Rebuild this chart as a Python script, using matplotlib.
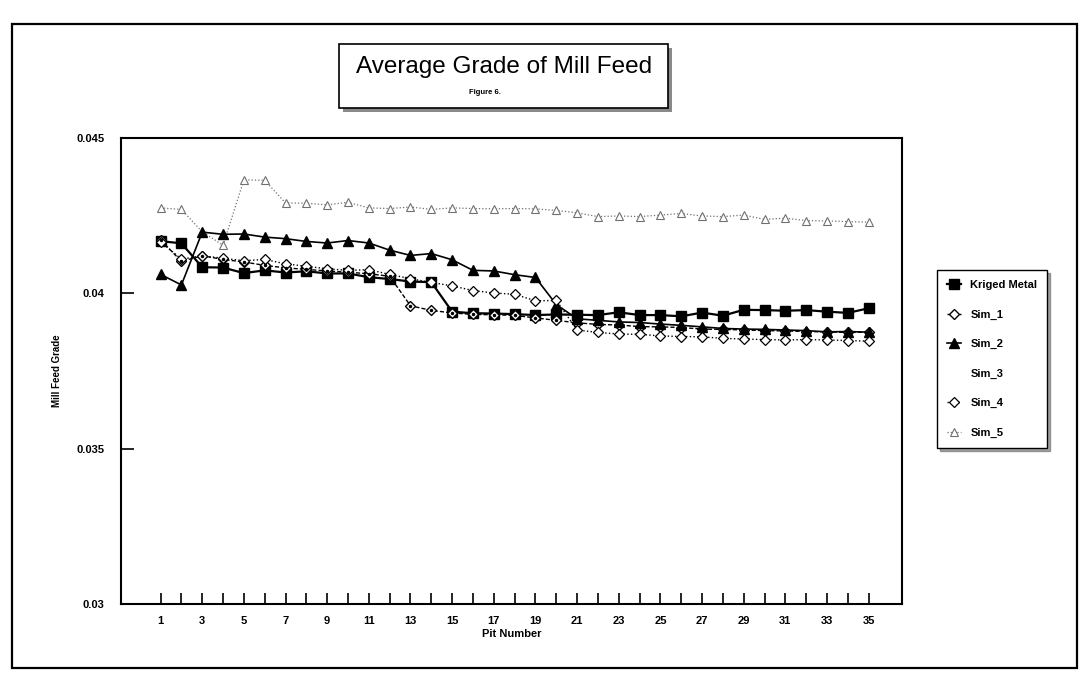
import matplotlib
matplotlib.use('Agg')
import matplotlib.pyplot as plt
from matplotlib.patches import Rectangle

plt.rcParams['font.family'] = ['Liberation Sans', 'DejaVu Sans']

# pit numbers 1..35
pits = list(range(1, 36))

kriged = [0.04168, 0.04161, 0.04084, 0.04083, 0.04065, 0.04074, 0.04067, 0.04071, 0.04064, 0.04064,
          0.04052, 0.04046, 0.04038, 0.04036, 0.03941, 0.03936, 0.03935, 0.03933, 0.03930, 0.03932,
          0.03931, 0.03930, 0.03939, 0.03930, 0.03930, 0.03926, 0.03938, 0.03928, 0.03947, 0.03946,
          0.03944, 0.03946, 0.03941, 0.03937, 0.03952]
sim_1 = [0.04172, 0.04103, 0.04121, 0.04109, 0.04101, 0.04090, 0.04082, 0.04077, 0.04072, 0.04068,
         0.04063, 0.04055, 0.03960, 0.03945, 0.03937, 0.03932, 0.03931, 0.03929, 0.03921, 0.03913,
         0.03905, 0.03900, 0.03898, 0.03893, 0.03892, 0.03890, 0.03885, 0.03884, 0.03882, 0.03880,
         0.03879, 0.03877, 0.03876, 0.03874, 0.03875]
sim_2 = [0.04061, 0.04027, 0.04197, 0.04190, 0.04191, 0.04181, 0.04176, 0.04167, 0.04162, 0.04170,
         0.04162, 0.04139, 0.04122, 0.04128, 0.04108, 0.04074, 0.04072, 0.04060, 0.04051, 0.03964,
         0.03918, 0.03913, 0.03908, 0.03906, 0.03901, 0.03897, 0.03892, 0.03887, 0.03885, 0.03884,
         0.03882, 0.03880, 0.03876, 0.03877, 0.03875]
sim_4 = [0.04166, 0.04110, 0.04121, 0.04113, 0.04105, 0.04109, 0.04095, 0.04087, 0.04079, 0.04074,
         0.04076, 0.04061, 0.04047, 0.04035, 0.04024, 0.04009, 0.04001, 0.03997, 0.03976, 0.03977,
         0.03882, 0.03874, 0.03869, 0.03868, 0.03863, 0.03861, 0.03860, 0.03855, 0.03853, 0.03851,
         0.03850, 0.03851, 0.03850, 0.03848, 0.03846]
sim_5 = [0.04275, 0.04270, 0.04198, 0.04155, 0.04365, 0.04364, 0.04291, 0.04290, 0.04285, 0.04293,
         0.04275, 0.04273, 0.04278, 0.04270, 0.04275, 0.04273, 0.04272, 0.04273, 0.04272, 0.04267,
         0.04259, 0.04247, 0.04249, 0.04247, 0.04252, 0.04257, 0.04249, 0.04247, 0.04252, 0.04238,
         0.04242, 0.04234, 0.04233, 0.04231, 0.04229]

y_ticks = [0.03, 0.035, 0.04, 0.045]
y_labels = ['0.03', '0.035', '0.04', '0.045']

fig = plt.figure(figsize=(10.8, 6.76), dpi=100)
W, H = 1080, 676

def fx(px):
    return px / W

def fy(py):
    return 1 - py / H

# outer page frame
fig.patches.append(Rectangle((fx(12), fy(668)), fx(1077) - fx(12), fy(24) - fy(668),
                             transform=fig.transFigure, fill=False, lw=1.6, ec='black'))

ax = fig.add_axes([fx(121), fy(604), fx(902) - fx(121), fy(138) - fy(604)])

ax.plot(pits, kriged, color='black', lw=1.6, marker='s', ms=6.5, label='Kriged Metal', zorder=3)
ax.plot(pits, sim_1, color='black', lw=1.0, ls=(0, (3, 1.5)), marker='D', ms=5,
        mfc='white', mec='black', mew=1.0, label='Sim_1', zorder=4)
ax.plot(pits, sim_1, ls='none', marker='.', ms=3, color='black', zorder=5)
ax.plot(pits, sim_2, color='black', lw=1.2, marker='^', ms=6.5, label='Sim_2', zorder=4)
ax.plot([], [], ls='none', label='Sim_3')
ax.plot(pits, sim_4, color='black', lw=1.0, ls=':', marker='D', ms=5,
        mfc='white', mec='black', mew=0.9, label='Sim_4', zorder=4)
ax.plot(pits, sim_5, color='#707070', lw=0.9, ls=':', marker='^', ms=6,
        mfc='white', mec='#707070', mew=0.8, label='Sim_5', zorder=2)

ax.set_xlim(-0.9, 36.6)
ax.set_ylim(0.03, 0.045)
ax.set_xticks(pits)
ax.set_xticklabels([str(p) if p % 2 == 1 else '' for p in pits])
ax.set_yticks(y_ticks)
ax.set_yticklabels(y_labels)
ax.tick_params(axis='x', direction='in', length=8, width=1.2, labelsize=8, pad=9)
ax.tick_params(axis='y', direction='in', length=9, width=1.2, labelsize=8, pad=12)
for lab in ax.get_xticklabels() + ax.get_yticklabels():
    lab.set_fontweight('bold')
for s in ax.spines.values():
    s.set_linewidth(1.5)

ax.set_xlabel('Pit Number', fontsize=8, fontweight='bold', labelpad=2)
ax.set_ylabel('Mill Feed Grade', fontsize=7, fontweight='bold', labelpad=10)

# title box with shadow
fig.patches.append(Rectangle((fx(343), fy(112)), fx(672) - fx(343), fy(48) - fy(112),
                             transform=fig.transFigure, fc='#8a8a8a', ec='none', zorder=0))
fig.patches.append(Rectangle((fx(339), fy(108)), fx(668) - fx(339), fy(44) - fy(108),
                             transform=fig.transFigure, fc='white', ec='black', lw=1.2, zorder=1))
fig.text(fx(504), fy(67), 'Average Grade of Mill Feed', fontsize=17.5, ha='center', va='center')
fig.text(fx(485), fy(93), 'Figure 6.', fontsize=5.5, fontweight='bold', ha='center', va='center')

leg = fig.legend(loc='upper left', bbox_to_anchor=(fx(937), fy(270)),
                 prop={'size': 8, 'weight': 'bold'}, frameon=True, fancybox=False,
                 shadow=True, edgecolor='black', labelspacing=1.75, handlelength=1.3,
                 borderpad=0.9, handletextpad=0.8, borderaxespad=0)
leg.get_frame().set_linewidth(1.0)

fig.savefig('out.png', dpi=100)
